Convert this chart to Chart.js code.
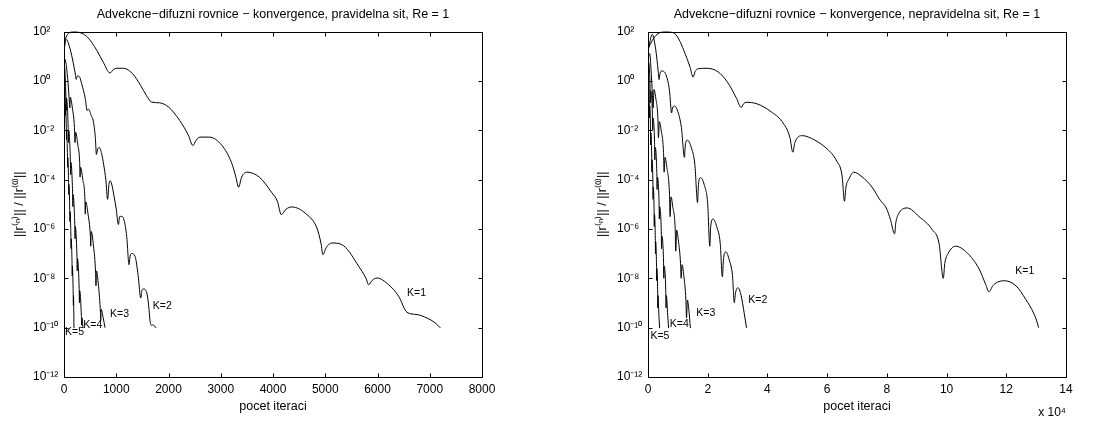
<!DOCTYPE html>
<html><head><meta charset="utf-8">
<script src="https://cdn.jsdelivr.net/npm/chart.js@4.4.1/dist/chart.umd.min.js"></script>
<style>
html,body{margin:0;padding:0;background:#fff;overflow:hidden}
#w1{position:absolute;left:0;top:0;width:557px;height:421px}
#w2{position:absolute;left:557px;top:0;width:558px;height:421px}
</style></head><body>
<div id="w1"><canvas id="c1" width="557" height="421"></canvas></div>
<div id="w2"><canvas id="c2" width="558" height="421"></canvas></div>
<script>
// ---------- DATA (y values are log10 of ||r(n)||/||r(0)||) ----------
const seriesNames = ['K=1','K=2','K=3','K=4','K=5'];
const yTickExponents = [2,0,-2,-4,-6,-8,-10,-12];
const leftXTicks = [0,1000,2000,3000,4000,5000,6000,7000,8000];
const rightXTicks = [0,2,4,6,8,10,12,14];   // x 10^4

// Left panel: regular grid (iterations)
const leftK1_x = [0,50,110,200,300,450,630,750,880,950,1018,1138,1317,1467,1580,1677,1826,2006,2216,2380,2467,2530,2605,2784,3024,3204,3290,3341,3400,3503,3743,3970,4087,4157,4250,4361,4649,4840,4920,4955,5020,5128,5351,5639,5780,5830,5900,5990,6213,6405,6565,6756,6948,7100,7203];
const leftK1_y = [1.5,1.82,1.96,2.0,1.96,1.77,1.23,0.76,0.32,0.47,0.51,0.51,0.28,-0.19,-0.6,-0.86,-0.89,-1.07,-1.61,-2.2,-2.62,-2.4,-2.28,-2.28,-2.62,-3.3,-3.9,-4.31,-3.9,-3.7,-3.91,-4.51,-4.9,-5.42,-5.2,-5.11,-5.42,-5.96,-6.6,-7.04,-6.75,-6.57,-6.68,-7.51,-8.0,-8.26,-8.08,-7.99,-8.26,-8.73,-9.38,-9.47,-9.61,-9.8,-10.01];
const leftK2_x = [0,25,50,80,146,210,235,255,300,338,410,440,470,520,561,600,620,645,677,720,760,800,835,860,885,920,960,1000,1041,1065,1105,1150,1200,1245,1265,1296,1360,1420,1469,1490,1520,1584,1620,1648,1680,1700,1724,1762];
const leftK2_y = [1.2,1.55,1.68,1.55,1.04,0.36,0.06,0.2,0.15,-0.12,-0.75,-1.2,-1.15,-1.4,-1.63,-2.3,-2.98,-2.75,-2.7,-2.95,-3.4,-4.0,-4.8,-4.2,-4.05,-4.25,-4.7,-5.2,-5.82,-5.5,-5.49,-5.65,-6.3,-7.45,-7.1,-7.0,-7.11,-7.9,-8.8,-8.5,-8.43,-8.59,-9.1,-9.74,-9.92,-9.88,-9.92,-10.01];
const leftK3_x = [0,15,35,70,105,112,120,160,200,210,222,265,300,308,317,360,400,407,415,460,505,512,520,565,605,612,620,660,698,704,710,750,785];
const leftK3_y = [0.5,0.88,0.75,0.1,-0.9,-1.1,-0.66,-1.1,-1.9,-2.5,-2.08,-2.6,-3.3,-3.9,-3.5,-4.0,-4.8,-5.4,-4.9,-5.4,-6.3,-6.7,-6.1,-6.7,-7.8,-8.3,-7.7,-8.3,-9.4,-9.7,-9.25,-9.6,-10.0];
const leftK4_x = [0,10,25,40,44,48,80,86,90,122,128,132,164,170,174,206,212,216,248,254,258,290,296,300,332,338,342,364];
const leftK4_y = [0.2,0.55,0.1,-0.9,-1.2,-0.7,-1.9,-2.5,-2.0,-3.2,-3.8,-3.3,-4.5,-5.1,-4.6,-5.8,-6.4,-5.9,-7.1,-7.7,-7.2,-8.4,-9.0,-8.5,-9.5,-9.9,-9.6,-10.02];
const leftK5_x = [0,6,18,24,26,28,44,48,50,66,70,72,88,92,94,110,114,116,132,136,138,154,158,160,176,180,182,191];
const leftK5_y = [0.0,0.2,-0.5,-1.0,-1.4,-0.95,-1.9,-2.4,-2.0,-3.0,-3.5,-3.1,-4.1,-4.6,-4.2,-5.2,-5.7,-5.3,-6.3,-6.8,-6.4,-7.4,-7.9,-7.5,-8.6,-9.1,-8.7,-10.02];

// Right panel: irregular grid (iterations x 10^4)
const rightK1_x = [0,0.15,0.3,0.57,0.89,1.05,1.2,1.41,1.51,1.58,1.67,1.98,2.35,2.66,2.97,3.12,3.2,3.29,3.65,4.12,4.49,4.75,4.85,4.92,5.17,5.58,6.0,6.32,6.5,6.58,6.63,6.72,6.89,7.17,7.5,7.78,7.98,8.12,8.26,8.3,8.38,8.68,9.07,9.52,9.75,9.89,9.94,10.05,10.3,10.69,11.09,11.31,11.42,11.55,11.7,11.93,12.32,12.65,12.93,13.05,13.08];
const rightK1_y = [1.3,1.65,1.88,2.0,1.92,1.65,1.23,0.55,0.15,0.38,0.49,0.51,0.36,-0.05,-0.72,-1.08,-0.93,-0.87,-0.93,-1.25,-1.65,-2.28,-2.89,-2.5,-2.22,-2.4,-2.76,-3.25,-3.85,-4.88,-4.3,-4.0,-3.7,-3.89,-4.3,-4.84,-5.15,-5.62,-6.2,-5.75,-5.42,-5.15,-5.49,-6.03,-6.6,-8.0,-7.4,-7.0,-6.7,-6.97,-7.62,-8.25,-8.55,-8.3,-8.16,-8.1,-8.3,-8.85,-9.45,-9.85,-10.0];
const rightK2_x = [0,0.14,0.26,0.34,0.37,0.4,0.47,0.6,0.72,0.79,0.82,0.89,1.0,1.12,1.22,1.25,1.32,1.45,1.57,1.66,1.69,1.76,1.88,2.0,2.07,2.1,2.18,2.3,2.42,2.49,2.53,2.61,2.72,2.83,2.89,2.93,3.01,3.12,3.22,3.3];
const rightK2_y = [1.2,1.88,1.26,0.4,0.05,0.3,0.4,0.25,-0.4,-1.3,-1.1,-1.02,-1.25,-1.9,-3.1,-2.6,-2.4,-2.7,-3.4,-4.93,-4.2,-3.92,-4.2,-5.0,-6.7,-5.9,-5.6,-5.9,-6.6,-7.94,-7.2,-6.93,-7.25,-7.9,-8.99,-8.6,-8.38,-8.7,-9.4,-10.01];
const rightK3_x = [0,0.03,0.06,0.1,0.15,0.17,0.2,0.26,0.33,0.35,0.38,0.44,0.52,0.54,0.57,0.63,0.72,0.74,0.77,0.83,0.91,0.93,0.96,1.02,1.09,1.11,1.14,1.2,1.27,1.29,1.32,1.37,1.42];
const rightK3_y = [0.5,1.05,1.1,0.5,-0.6,-1.1,-0.35,-0.7,-1.5,-2.3,-1.65,-2.0,-2.9,-3.7,-3.1,-3.5,-4.6,-5.5,-4.7,-5.1,-6.0,-6.9,-6.05,-6.5,-7.4,-8.0,-7.45,-7.9,-8.9,-9.6,-8.88,-9.3,-10.02];
const rightK4_x = [0,0.02,0.04,0.07,0.08,0.09,0.145,0.155,0.165,0.22,0.23,0.24,0.295,0.305,0.315,0.37,0.38,0.39,0.445,0.455,0.465,0.52,0.53,0.54,0.595,0.605,0.615,0.66,0.69];
const rightK4_y = [0.3,0.75,0.6,-0.3,-0.9,-0.4,-1.3,-2.0,-1.5,-2.5,-3.2,-2.7,-3.7,-4.4,-3.9,-4.9,-5.6,-5.1,-6.1,-6.8,-6.3,-7.3,-8.0,-7.5,-8.5,-9.2,-8.7,-9.5,-10.02];
const rightK5_x = [0,0.015,0.03,0.045,0.05,0.055,0.085,0.09,0.095,0.125,0.13,0.135,0.165,0.17,0.175,0.205,0.21,0.215,0.245,0.25,0.255,0.285,0.29,0.295,0.325,0.33,0.335,0.365,0.39];
const rightK5_y = [0.0,0.3,-0.2,-1.0,-1.5,-1.0,-2.0,-2.6,-2.1,-3.1,-3.7,-3.2,-4.2,-4.8,-4.3,-5.3,-5.9,-5.4,-6.4,-7.0,-6.5,-7.5,-8.1,-7.6,-8.6,-9.2,-8.7,-9.5,-10.02];

// Curve annotations (anchored in data coordinates: x, log10 y)
const leftLabelAnchors = [['K=1',6565,-8.6],['K=2',1699,-9.14],['K=3',881,-9.45],['K=4',370,-9.9],['K=5',19,-10.2]];
const rightLabelAnchors = [['K=1',12.3,-7.69],['K=2',3.36,-8.9],['K=3',1.62,-9.43],['K=4',0.73,-9.84],['K=5',0.08,-10.35]];

// ---------- RENDERING ----------
const FONT = '"Liberation Sans", Arial, Helvetica, sans-serif';
Chart.defaults.font.family = FONT;
Chart.defaults.color = '#000';
const SUP = {'0':'⁰','1':'¹','2':'²','3':'³','4':'⁴','5':'⁵','6':'⁶','7':'⁷','8':'⁸','9':'⁹','-':'⁻'};
const sup = n => String(n).split('').map(c => SUP[c]).join('');

const boxPlugin = {
  id: 'matlabBox',
  afterDatasetsDraw(chart, args, o) {
    const {ctx, chartArea: a} = chart;
    const xs = chart.scales.x, ys = chart.scales.y;
    ctx.save();
    ctx.strokeStyle = '#000';
    ctx.lineWidth = 1;
    const L = Math.round(a.left) + 0.5, R = Math.round(a.right) + 0.5;
    const T = Math.round(a.top) + 0.5, B = Math.round(a.bottom) + 0.5;
    ctx.beginPath();
    ctx.rect(L, T, R - L, B - T);
    const tl = 4;
    xs.ticks.forEach(t => {
      const p = Math.round(xs.getPixelForValue(t.value)) + 0.5;
      ctx.moveTo(p, B); ctx.lineTo(p, B - tl);
      ctx.moveTo(p, T); ctx.lineTo(p, T + tl);
    });
    ys.ticks.forEach(t => {
      const p = Math.round(ys.getPixelForValue(t.value)) + 0.5;
      ctx.moveTo(L, p); ctx.lineTo(L + tl, p);
      ctx.moveTo(R, p); ctx.lineTo(R - tl, p);
    });
    ctx.stroke();
    ctx.fillStyle = '#000';
    ctx.font = '10.5px ' + FONT;
    ctx.textAlign = 'left';
    ctx.textBaseline = 'middle';
    (o.labels || []).forEach(l => {
      ctx.fillText(l[0], xs.getPixelForValue(l[1]), ys.getPixelForValue(Math.pow(10, l[2])));
    });
    if (o.multiplier) {
      ctx.font = '12px ' + FONT;
      ctx.textAlign = 'right';
      ctx.fillText(o.multiplier, a.right, a.bottom + 36);
    }
    ctx.restore();
  }
};

function makeChart(id, xsArr, ysArr, cfg) {
  const datasets = xsArr.map((xa, i) => ({
    label: seriesNames[i],
    data: xa.map((x, j) => ({x: x, y: Math.pow(10, ysArr[i][j])})),
    borderColor: '#000', borderWidth: 1, pointRadius: 0,
    cubicInterpolationMode: 'monotone', fill: false
  }));
  return new Chart(document.getElementById(id), {
    type: 'line',
    data: {datasets},
    options: {
      responsive: false, animation: false, events: [],
      layout: {padding: {left: cfg.padLeft, right: cfg.padRight, top: 4.3, bottom: 0}},
      plugins: {
        legend: {display: false},
        tooltip: {enabled: false},
        title: {display: true, text: cfg.title, fullSize: false, color: '#000',
                font: {size: 12.5, weight: 'normal'}, padding: {top: 3.2, bottom: 9}},
        matlabBox: {labels: cfg.labels, multiplier: cfg.multiplier}
      },
      scales: {
        x: {
          type: 'linear', min: 0, max: cfg.xTicks[cfg.xTicks.length - 1],
          afterBuildTicks: s => { s.ticks = cfg.xTicks.map(v => ({value: v})); },
          ticks: {color: '#000', font: {size: 12}, padding: 5, maxRotation: 0, autoSkip: false,
                  callback: v => String(v)},
          grid: {display: false, drawTicks: false},
          border: {display: false},
          title: {display: true, text: 'pocet iteraci', color: '#000', font: {size: 12.5}, padding: {top: 0, bottom: 6.5}},
          afterFit: s => { s.height = 44; }
        },
        y: {
          type: 'logarithmic', min: 1e-12, max: 1e2,
          afterBuildTicks: s => { s.ticks = yTickExponents.map(e => ({value: Math.pow(10, e)})); },
          ticks: {color: '#000', font: {size: 12}, crossAlign: 'far', autoSkip: false,
                  callback: v => '10' + sup(Math.round(Math.log10(v)))},
          grid: {display: false, drawTicks: false},
          border: {display: false},
          title: {display: true, text: '||r⁽ⁿ⁾|| / ||r⁽⁰⁾||', color: '#000', font: {size: 12.5},
                  padding: {top: cfg.yTitlePad, bottom: 0}},
          afterFit: s => { s.width = 31; }
        }
      }
    },
    plugins: [boxPlugin]
  });
}

makeChart('c1',
  [leftK1_x, leftK2_x, leftK3_x, leftK4_x, leftK5_x],
  [leftK1_y, leftK2_y, leftK3_y, leftK4_y, leftK5_y],
  {title: 'Advekcne−difuzni rovnice − konvergence, pravidelna sit, Re = 1',
   padLeft: 33, padRight: 75, yTitlePad: -20.5, xTicks: leftXTicks,
   labels: leftLabelAnchors, multiplier: null});

makeChart('c2',
  [rightK1_x, rightK2_x, rightK3_x, rightK4_x, rightK5_x],
  [rightK1_y, rightK2_y, rightK3_y, rightK4_y, rightK5_y],
  {title: 'Advekcne−difuzni rovnice − konvergence, nepravidelna sit, Re = 1',
   padLeft: 60, padRight: 49, yTitlePad: -21.5, xTicks: rightXTicks,
   labels: rightLabelAnchors, multiplier: 'x 10⁴'});
</script>
</body></html>
